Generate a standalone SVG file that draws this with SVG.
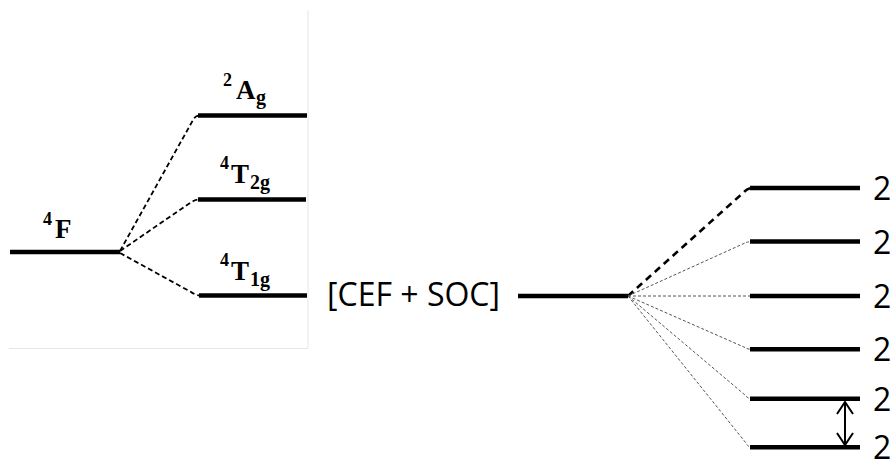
<svg xmlns="http://www.w3.org/2000/svg" width="891" height="459" viewBox="0 0 891 459">
<style>
.lvl{stroke:#000;stroke-width:4.6;fill:none}
.dl{stroke:#000;stroke-width:1.8;stroke-dasharray:5 3;fill:none}
.dthick{stroke:#000;stroke-width:2.6;stroke-dasharray:7 5;fill:none}
.dthin{stroke:#555;stroke-width:1;stroke-dasharray:3 2;fill:none}
.frame{stroke:#e6e6e6;stroke-width:1;fill:none}
.ser{font-family:"Liberation Serif","Times New Roman",serif;font-weight:bold;fill:#000}
.big{font-size:27px}
.sup{font-size:18px}
.sub{font-size:20px}
.sans{font-family:"Open Sans","Liberation Sans",sans-serif;font-size:32px;fill:#000}
</style>
<defs>
<marker id="ah" viewBox="0 0 14 18" refX="13" refY="9" markerWidth="14" markerHeight="18" markerUnits="userSpaceOnUse" orient="auto-start-reverse">
<path d="M1,1 L13,9 L1,17" fill="none" stroke="#000" stroke-width="2"/>
</marker>
</defs>
<rect width="891" height="459" fill="#fff"/>
<g id="frame">
<line class="frame" x1="308" y1="10" x2="308" y2="348"/>
<line class="frame" x1="9" y1="348.5" x2="308" y2="348.5"/>
</g>
<g id="connectors">
<path class="dl" d="M120,251 L193,120 Q195,116 199,115.5"/>
<path class="dl" d="M120,251 L190,203 Q194,200 199,199.5"/>
<path class="dl" d="M120,253 L191,292 Q195,295 200,295.5"/>
<path class="dthick" d="M628,296 L744,192 Q747,188.5 751,188"/>
<path class="dthin" d="M628,296 L745,243 Q747,242 751,241.5"/>
<path class="dthin" d="M628,296 L751,296"/>
<path class="dthin" d="M628,296 L745,347.5 Q747,349 751,349.3"/>
<path class="dthin" d="M628,296 L745,395 Q747,398 751,398.7"/>
<path class="dthin" d="M628,296 L746,443 Q748,447 751,447.3"/>
<line x1="845" y1="402" x2="845" y2="445" stroke="#000" stroke-width="2" marker-start="url(#ah)" marker-end="url(#ah)"/>
</g>
<g id="node-4F">
<line class="lvl" x1="10" y1="252" x2="120" y2="252"/>
<text class="ser sup" x="43" y="225">4</text>
<text class="ser big" x="55" y="238">F</text>
</g>
<g id="node-2Ag">
<line class="lvl" x1="198" y1="115.5" x2="307" y2="115.5"/>
<text class="ser sup" x="223" y="86">2</text>
<text class="ser big" x="236" y="99">A</text>
<text class="ser sub" x="256" y="104">g</text>
</g>
<g id="node-4T2g">
<line class="lvl" x1="198" y1="199.5" x2="306" y2="199.5"/>
<text class="ser sup" x="220" y="169">4</text>
<text class="ser big" x="231" y="183">T</text>
<text class="ser sub" x="250" y="189">2g</text>
</g>
<g id="node-4T1g">
<line class="lvl" x1="199" y1="295.5" x2="307" y2="295.5"/>
<text class="ser sup" x="220" y="266">4</text>
<text class="ser big" x="231" y="280">T</text>
<text class="ser sub" x="250" y="286">1g</text>
</g>
<g id="node-CEF">
<text class="sans" x="327" y="306" textLength="173" lengthAdjust="spacingAndGlyphs">[CEF + SOC]</text>
<line class="lvl" x1="518" y1="296" x2="628" y2="296"/>
</g>
<g id="levels">
<g id="level-1"><line class="lvl" x1="750" y1="188" x2="860" y2="188"/><text class="sans" x="873" y="200">2</text></g>
<g id="level-2"><line class="lvl" x1="750" y1="241.5" x2="860" y2="241.5"/><text class="sans" x="873" y="253.5">2</text></g>
<g id="level-3"><line class="lvl" x1="750" y1="296" x2="860" y2="296"/><text class="sans" x="873" y="308">2</text></g>
<g id="level-4"><line class="lvl" x1="750" y1="349.3" x2="860" y2="349.3"/><text class="sans" x="873" y="361.3">2</text></g>
<g id="level-5"><line class="lvl" x1="750" y1="398.7" x2="860" y2="398.7"/><text class="sans" x="873" y="410.7">2</text></g>
<g id="level-6"><line class="lvl" x1="750" y1="447.3" x2="860" y2="447.3"/><text class="sans" x="873" y="459.3">2</text></g>
</g>
</svg>
